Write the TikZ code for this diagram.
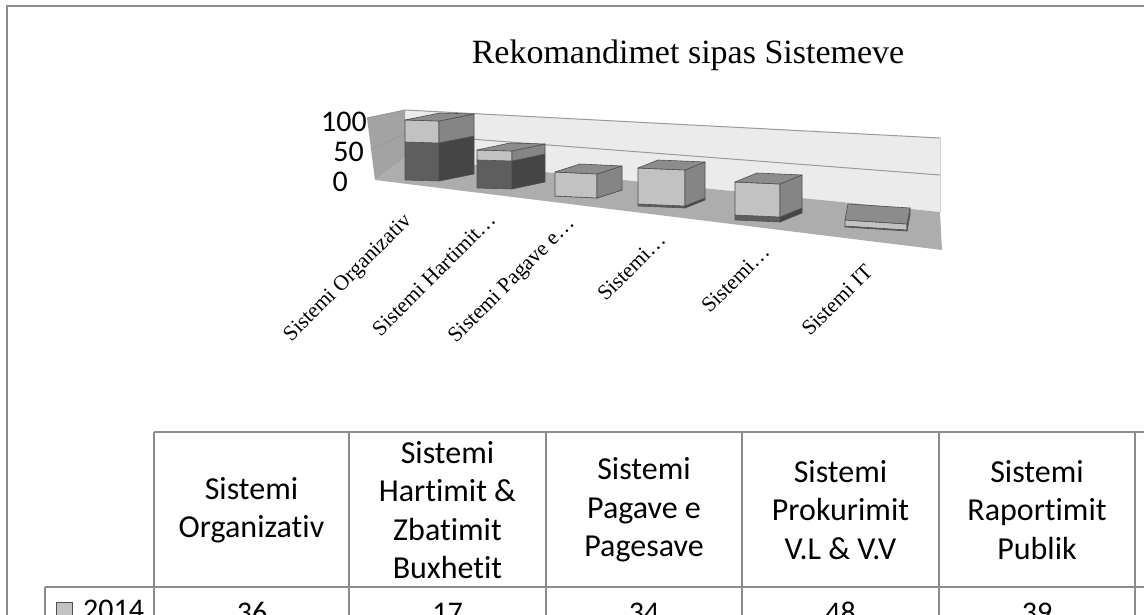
\documentclass[tikz,border=0pt]{standalone}
\usepackage{fontspec}
\setmainfont{Liberation Serif}
\newfontfamily\calib[RawFeature={-liga}]{Carlito}
\usetikzlibrary{calc}
\definecolor{framec}{HTML}{8C8C8C}
\definecolor{wallback}{HTML}{EBEBEB}
\definecolor{wallside}{HTML}{A3A3A3}
\definecolor{floorc}{HTML}{ADADAD}
\definecolor{gridc}{HTML}{9A9A9A}
\definecolor{lightfront}{HTML}{C2C2C2}
\definecolor{lightside}{HTML}{858585}
\definecolor{topc}{HTML}{8C8C8C}
\definecolor{darkfront}{HTML}{5E5E5E}
\definecolor{darkside}{HTML}{454545}
\definecolor{edgec}{HTML}{505050}
\tikzset{
  frameline/.style={draw=framec,line width=2.2pt},
  tableline/.style={draw=framec,line width=2.4pt},
  baredge/.style={draw=edgec,line width=0.6pt,line join=round},
  gridline/.style={draw=gridc,line width=1pt},
  catlabel/.style={font=\fontsize{21.5}{25}\selectfont,rotate=45,anchor=east,inner sep=0pt},
  axlabel/.style={font=\calib\fontsize{30}{34}\selectfont,anchor=east,inner sep=0pt},
  hdr/.style={font=\calib\fontsize{32}{38.3}\selectfont,align=center,inner sep=0pt},
  val/.style={font=\calib\fontsize{30}{36}\selectfont,anchor=base,inner sep=0pt}
}
% front band: x, yb, w, s, h0, h1, colour
\newcommand{\fband}[7]{%
  \filldraw[baredge,fill=#7] ({#1},{#2-#5}) -- ({#1+#3},{#2+#4-#5}) -- ({#1+#3},{#2+#4-#6}) -- ({#1},{#2-#6}) -- cycle;}
% side band: x, yb, w, s, h0, h1, dx, dy, colour
\newcommand{\sband}[9]{%
  \filldraw[baredge,fill=#9] ({#1+#3},{#2+#4-#5}) -- ({#1+#3+#7},{#2+#4-#5+(#8)}) -- ({#1+#3+#7},{#2+#4-#6+(#8)}) -- ({#1+#3},{#2+#4-#6}) -- cycle;}
% top face: x, yb, w, s, h, dx, dy, colour
\newcommand{\tface}[8]{%
  \filldraw[baredge,fill=#8] ({#1},{#2-#5}) -- ({#1+#3},{#2+#4-#5}) -- ({#1+#3+#6},{#2+#4-#5+(#7)}) -- ({#1+#6},{#2-#5+(#7)}) -- cycle;}
% stacked bar: x, yb, w, s, dx, dy, h(dark), h(total)
\newcommand{\stackbar}[8]{%
  \fband{#1}{#2}{#3}{#4}{0}{#7}{darkfront}%
  \sband{#1}{#2}{#3}{#4}{0}{#7}{#5}{#6}{darkside}%
  \fband{#1}{#2}{#3}{#4}{#7}{#8}{lightfront}%
  \sband{#1}{#2}{#3}{#4}{#7}{#8}{#5}{#6}{lightside}%
  \tface{#1}{#2}{#3}{#4}{#8}{#5}{#6}{topc}}
\begin{document}
\begin{tikzpicture}[x=1pt,y=-1pt]
\useasboundingbox (0,0) rectangle (1144,615);
\clip (0,0) rectangle (1144,615);
\fill[white] (0,0) rectangle (1144,615);
% outer frame
\draw[frameline] (7,616) -- (7,6) -- (1145,6);
% title
\node[font=\fontsize{34}{40}\selectfont] (title) at (688,55) {Rekomandimet sipas Sistemeve};
% walls and floor
\fill[wallback] (405,110) -- (940,138) -- (940,212) -- (405,158) -- cycle;
\fill[wallside] (367,118) -- (405,110) -- (405,158) -- (375,180) -- cycle;
\fill[floorc] (375,180) -- (405,158) -- (940,212) -- (942,250) -- cycle;
\draw[gridline] (367,118) -- (405,110) -- (940,138);
\draw[gridline] (371,149) -- (405,134) -- (940,175);
\draw[gridline,draw=wallback!70!gridc] (940,138) -- (940,212);
% bars
\stackbar{405}{180}{34}{1}{35}{-7}{38}{60}
\stackbar{477}{188}{35}{1}{33}{-7}{28}{38}
\stackbar{555}{196}{42}{2}{25}{-8}{0}{24}
\stackbar{638}{206}{47}{2}{20}{-8}{2}{38}
\stackbar{735}{220}{45}{2}{22}{-9}{5}{38}
\stackbar{845}{227}{62}{4}{3}{-16}{1}{7}
% axis labels
\node[axlabel] (y100) at (367,122) {100};
\node[axlabel] (y50) at (364,152) {50};
\node[axlabel] (y0) at (348,182) {0};
% category labels
\node[catlabel] (c1) at (409,218) {Sistemi Organizativ};
\node[catlabel] (c2) at (492,216) {Sistemi Hartimit…};
\node[catlabel] (c3) at (572,221) {Sistemi Pagave e…};
\node[catlabel] (c4) at (662,236) {Sistemi…};
\node[catlabel] (c5) at (766,248) {Sistemi…};
\node[catlabel] (c6) at (869,268) {Sistemi IT};
% table
\draw[tableline] (154,432) -- (1145,432);
\draw[tableline] (45,587) -- (1145,587);
\draw[tableline] (45,587) -- (45,616);
\foreach \xx in {154,349,546,742,939,1135} {\draw[tableline] (\xx,432) -- (\xx,616);}
\node[hdr] (h1) at (251.5,510) {Sistemi\\Organizativ};
\node[hdr] (h2) at (447.5,510) {Sistemi\\Hartimit \&\\Zbatimit\\Buxhetit};
\node[hdr] (h3) at (644,510) {Sistemi\\Pagave e\\Pagesave};
\node[hdr] (h4) at (840.5,510) {Sistemi\\Prokurimit\\V.L \& V.V};
\node[hdr] (h5) at (1037,510) {Sistemi\\Raportimit\\Publik};
\filldraw[fill=lightfront,draw=edgec,line width=1pt] (56,602) rectangle (72,618);
\node[val,anchor=base west] (yr) at (83,619) {2014};
\node[val] (v1) at (252,622) {36};
\node[val] (v2) at (447.5,622) {17};
\node[val] (v3) at (644,622) {34};
\node[val] (v4) at (840.5,622) {48};
\node[val] (v5) at (1037,622) {39};
\end{tikzpicture}
\end{document}
